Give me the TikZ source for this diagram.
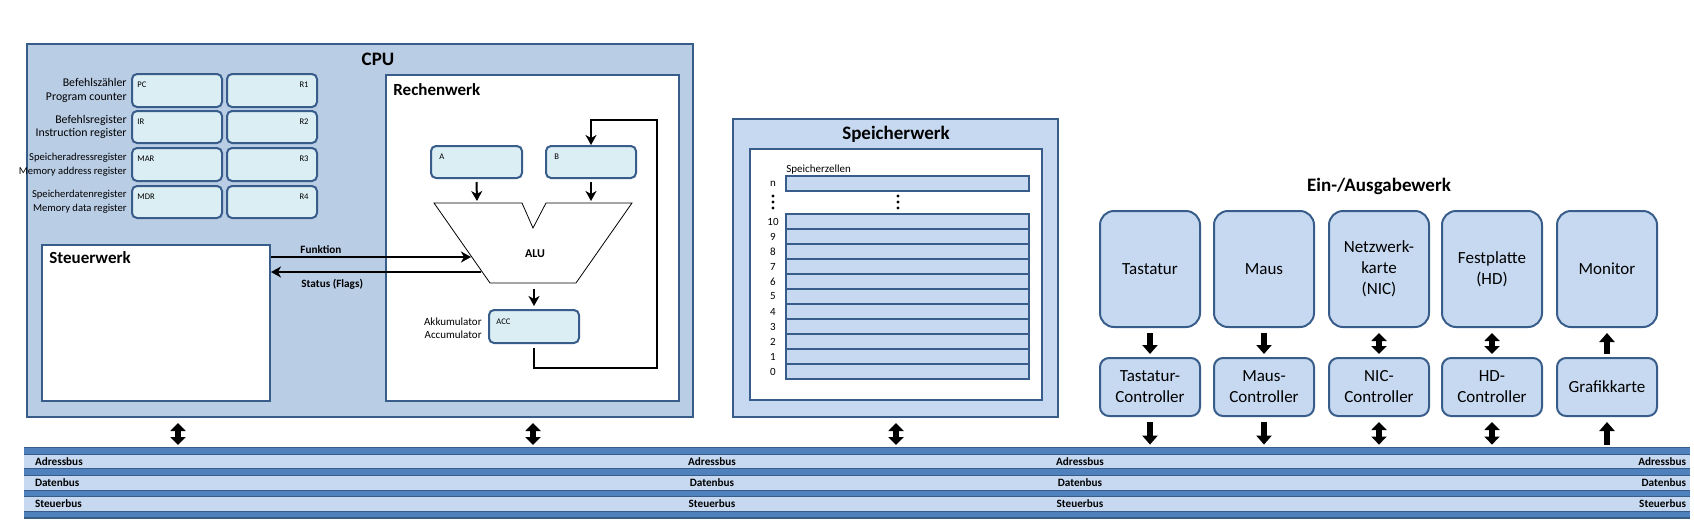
\documentclass[tikz,border=0pt]{standalone}
\usepackage{fontspec}
\setmainfont{Carlito}
\usetikzlibrary{arrows.meta,fit,calc}
\definecolor{cpubg}{HTML}{B9CDE5}
\definecolor{lightbg}{HTML}{C6D9F1}
\definecolor{regbg}{HTML}{DBEEF4}
\definecolor{bord}{HTML}{385D8A}
\definecolor{busmid}{HTML}{4F81BD}
\begin{document}
\begin{tikzpicture}[x=0.5pt,y=-0.5pt,
  box/.style={draw=bord, line width=1pt, inner sep=0pt},
  regbox/.style={box, fill=regbg, rounded corners=2.5pt},
  devbox/.style={box, fill=lightbg, rounded corners=7pt},
  ctrlbox/.style={box, fill=lightbg, rounded corners=4.5pt},
  cellbox/.style={box, fill=lightbg},
  bigtitle/.style={font=\bfseries\fontsize{9.5}{11}\selectfont, inner sep=0pt},
  subtitle/.style={font=\bfseries\fontsize{8.5}{10}\selectfont, inner sep=0pt, anchor=west},
  lbl/.style={font=\fontsize{5.5}{6.6}\selectfont, inner sep=0pt},
  reglbl/.style={font=\fontsize{5.9}{6.8}\selectfont, inner sep=0pt},
  reglblc/.style={font=\fontsize{5.3}{6.8}\selectfont, inner sep=0pt},
  tiny/.style={font=\fontsize{4.3}{5}\selectfont, inner sep=0pt},
  bold small/.style={font=\bfseries\fontsize{5.6}{6.6}\selectfont, inner sep=0pt},
  devtxt/.style={font=\fontsize{8.5}{10.5}\selectfont, align=center, inner sep=0pt},
  thinarrow/.style={line width=1pt, -{Stealth[length=5pt,width=5.5pt,inset=1.5pt]}},
  bigdown/.style={line width=2.6pt, -{Triangle[length=4.5pt,width=7.5pt]}, shorten >=1.5pt, shorten <=2.5pt},
  bigup/.style={line width=2.6pt, {Triangle[length=4.5pt,width=7.5pt]}-, shorten >=1.5pt, shorten <=2.5pt},
  bigdbl/.style={line width=2.6pt, {Triangle[length=4pt,width=7.5pt]}-{Triangle[length=4pt,width=7.5pt]}, shorten >=1.5pt, shorten <=2.5pt},
]
\useasboundingbox (0,0) rectangle (1694,526);

% ---------------- CPU ----------------
\node[box, fill=cpubg, fit={(27,44) (693,417)}] (cpu) {};
\node[bigtitle] (cputitle) at (378,59) {CPU};

\foreach \i/\ya/\yb/\l/\r/\ta/\tb/\st in {
  1/74/107/PC/R1/Befehlszähler/Program counter/reglbl,
  2/111/143/IR/R2/Befehlsregister/Instruction register/reglbl,
  3/148/181/MAR/R3/Speicheradressregister/Memory address register/reglblc,
  4/186/218/MDR/R4/Speicherdatenregister/Memory data register/reglblc}{
  \node[regbox, fit={(132,\ya) (222,\yb)}] (regL\i) {};
  \node[regbox, fit={(227,\ya) (317,\yb)}] (regR\i) {};
  \node[tiny, anchor=west] (regLt\i) at ($(regL\i.north west)+(6,12)$) {\l};
  \node[tiny, anchor=east] (regRt\i) at ($(regR\i.north east)+(-9,12)$) {\r};
  \node[\st, anchor=east, align=right] (regLab\i) at ($(regL\i.west)+(-4,0)$) {\ta\\\tb};
}

% Steuerwerk
\node[box, fill=white, fit={(42,245) (270,401)}] (steuer) {};
\node[subtitle] (steuert) at (49,258) {Steuerwerk};

% Rechenwerk
\node[box, fill=white, fit={(386,75) (679,401)}] (rechen) {};
\node[subtitle] (rechent) at (393,90) {Rechenwerk};

\node[regbox, fit={(431,146) (522,178)}] (rA) {};
\node[regbox, fit={(546,146) (636,178)}] (rB) {};
\node[tiny, anchor=west] (rAt) at ($(rA.north west)+(9,12)$) {A};
\node[tiny, anchor=west] (rBt) at ($(rB.north west)+(9,12)$) {B};

% ALU shape
\coordinate (alu1) at (434,203);
\coordinate (alu2) at (522,203);
\coordinate (alu3) at (533,228);
\coordinate (alu4) at (546,203);
\coordinate (alu5) at (632,203);
\coordinate (alu6) at (576,283);
\coordinate (alu7) at (490,283);
\draw[line width=0.4pt, fill=white] (alu1) -- (alu2) -- (alu3) -- (alu4) -- (alu5) -- (alu6) -- (alu7) -- cycle;
\node[bold small, font=\bfseries\fontsize{6}{7}\selectfont] (alu) at (535,254) {ALU};
\coordinate (aluA) at (477,203);
\coordinate (aluB) at (591,203);
\coordinate (aluF) at (471,257);
\coordinate (aluS) at (481,272);
\coordinate (aluOut) at (534,283);

\node[regbox, fit={(489,310) (579,343)}] (acc) {};
\node[tiny, anchor=west] (acct) at ($(acc.north west)+(8,13)$) {ACC};
\node[lbl, anchor=east, align=right] (accLab) at ($(acc.west)+(-6,2)$) {Akkumulator\\Accumulator};

\draw[thinarrow, shorten <=1.5pt, shorten >=1pt] (rA.south) -- (aluA);
\draw[thinarrow, shorten <=1.5pt, shorten >=1pt] (rB.south) -- (aluB);
\draw[thinarrow, shorten <=3pt, shorten >=1.5pt] (aluOut) -- (acc.north);

\coordinate (fb1) at (657,368);
\coordinate (fb2) at (657,120);
\draw[thinarrow, shorten <=2pt] (acc.south) |- (fb1) -- (fb2) -| (rB.north);

% Funktion / Status
\draw[thinarrow] (steuer.east |- aluF) -- (aluF);
\draw[thinarrow] (aluS) -- (steuer.east |- aluS);
\node[bold small, anchor=west] (funk) at (300,250) {Funktion};
\node[bold small, anchor=west] (stat) at (301,284) {Status (Flags)};

% ---------------- Speicherwerk ----------------
\node[box, fill=lightbg, fit={(733,119) (1058,417)}] (speicher) {};
\node[bigtitle] (speichert) at (896,134) {Speicherwerk};
\node[box, fill=white, fit={(750,149) (1042,400)}] (speicherin) {};
\node[lbl, anchor=west] (zellen) at (786,170) {Speicherzellen};
\node[cellbox, fit={(786,176) (1029,191)}] (celln) {};
\node[lbl] (celllabn) at (773,184) {n};
\foreach \yy in {196,202,208}{
  \fill (773,\yy) circle (0.8pt);
  \fill (898,\yy) circle (0.8pt);
}
\foreach \k in {0,...,10}{
  \pgfmathsetmacro\yt{214+(10-\k)*15}
  \pgfmathsetmacro\yb{\yt+15}
  \node[cellbox, fit={(786,\yt) (1029,\yb)}] (cell\k) {};
  \node[lbl] (celllab\k) at (773,\yt+7.5) {\k};
}

% ---------------- Ein-/Ausgabewerk ----------------
\node[bigtitle] (iotitle) at (1379,186) {Ein-/Ausgabewerk};
\foreach \n/\xa/\t/\c in {
  tast/1100/Tastatur/Tastatur-\\Controller,
  maus/1214/Maus/Maus-\\Controller,
  nic/1329/Netzwerk-\\karte\\(NIC)/NIC-\\Controller,
  hd/1442/Festplatte\\(HD)/HD-\\Controller,
  mon/1557/Monitor/Grafikkarte}{
  \pgfmathsetmacro\xb{\xa+100}
  \node[devbox, fit={(\xa,211) (\xb,327)}] (\n) {};
  \node[devtxt] (\n-t) at (\n) {\t};
  \node[ctrlbox, fit={(\xa,358) (\xb,416)}] (\n-c) {};
  \node[devtxt] (\n-ct) at (\n-c) {\c};
}

% ---------------- Bus ----------------
\node[inner sep=0pt, fill=busmid, fit={(24,448) (1690,519)}] (bus) {};
\draw[bord, line width=0.8pt] (bus.north west) -- (bus.north east);
\foreach \b/\ya/\yb in {adr/455/468, dat/476/490, st/497/511}{
  \node[inner sep=0pt, fill=lightbg, fit={(24,\ya) (1690,\yb)}] (band\b) {};
  \draw[bord, line width=0.8pt] (band\b.north west) -- (band\b.north east);
  \draw[bord, line width=0.8pt] (band\b.south west) -- (band\b.south east);
}
\draw[bord, line width=0.8pt] ($(bus.south west)+(0,-1.5)$) -- ($(bus.south east)+(0,-1.5)$);
\foreach \b/\t in {adr/Adressbus, dat/Datenbus, st/Steuerbus}{
  \node[bold small, anchor=west] at ($(band\b.west)+(11,0)$) {\t};
  \node[bold small] at (band\b.center -| 712,0) {\t};
  \node[bold small] at (band\b.center -| 1080,0) {\t};
  \node[bold small, anchor=east] at ($(band\b.east)+(-4,0)$) {\t};
}

% ---------------- Bus connections ----------------
\coordinate (bx1) at (178,448);
\coordinate (bx2) at (533,448);
\coordinate (bx3) at (896,448);
\draw[bigdbl] (cpu.south -| bx1) -- (bx1);
\draw[bigdbl] (cpu.south -| bx2) -- (bx2);
\draw[bigdbl] (speicher.south -| bx3) -- (bx3);

\draw[bigdown] (tast.south) -- (tast-c.north);
\draw[bigdown] (tast-c.south) -- (tast-c.south |- bus.north);
\draw[bigdown] (maus.south) -- (maus-c.north);
\draw[bigdown] (maus-c.south) -- (maus-c.south |- bus.north);
\draw[bigdbl] (nic.south) -- (nic-c.north);
\draw[bigdbl] (nic-c.south) -- (nic-c.south |- bus.north);
\draw[bigdbl] (hd.south) -- (hd-c.north);
\draw[bigdbl] (hd-c.south) -- (hd-c.south |- bus.north);
\draw[bigup] (mon.south) -- (mon-c.north);
\draw[bigup] (mon-c.south) -- (mon-c.south |- bus.north);
\end{tikzpicture}
\end{document}
